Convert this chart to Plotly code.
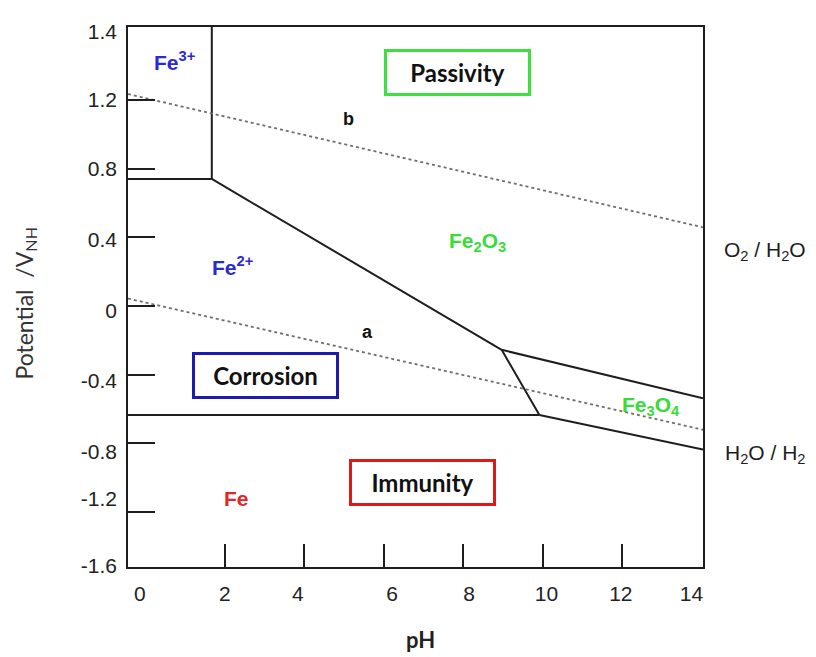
import plotly.graph_objects as go

# Axis range (pH, potential in V)
ph_range = [-0.44, 14.04]
e_range = [-1.522, 1.626]

# tick marks and their (slightly offset) labels
ph_marks = [2, 4, 6, 8, 10, 12]
ph_label_pos = [-0.14, 2.0, 3.84, 6.21, 8.15, 10.1, 11.97, 13.75]
ph_labels = ["0", "2", "4", "6", "8", "10", "12", "14"]

e_marks = [1.2, 0.8, 0.4, 0.0, -0.4, -0.8, -1.2]
e_label_pos = [1.597, 1.2, 0.803, 0.388, -0.026, -0.435, -0.849, -1.125, -1.515]
e_labels = ["1.4", "1.2", "0.8", "0.4", "0", "-0.4", "-0.8", "-1.2", "-1.6"]

# phase boundaries
boundaries = {
    "Fe3+/Fe2+": ([-0.44, 1.67], [0.74, 0.74]),
    "Fe3+/Fe2O3": ([1.67, 1.67], [0.74, 1.626]),
    "Fe2+/Fe2O3": ([1.67, 8.97], [0.74, -0.256]),
    "Fe2O3/Fe3O4": ([8.97, 14.04], [-0.256, -0.538]),
    "Fe2+/Fe3O4": ([8.97, 9.92], [-0.256, -0.636]),
    "Fe/Fe2+": ([-0.44, 9.92], [-0.636, -0.636]),
    "Fe/Fe3O4": ([9.92, 14.04], [-0.636, -0.837]),
}

# water stability lines
water_b_ph = [-0.44, 14.04]
water_b_e = [1.235, 0.458]
water_a_ph = [-0.44, 14.04]
water_a_e = [0.043, -0.722]

fig = go.Figure()

for name, (xs, ys) in boundaries.items():
    fig.add_trace(go.Scatter(x=xs, y=ys, mode="lines", name=name,
                             line=dict(color="#1e1e1e", width=2),
                             hoverinfo="skip"))

for xs, ys in [(water_b_ph, water_b_e), (water_a_ph, water_a_e)]:
    fig.add_trace(go.Scatter(x=xs, y=ys, mode="lines", xaxis="x2", yaxis="y2",
                             line=dict(color="#6e6e6e", width=1.8, dash="dot"),
                             hoverinfo="skip"))

species = [
    (0.72, 1.425, "Fe<sup>3+</sup>", "#2a2ad2", 21),
    (2.20, 0.235, "Fe<sup>2+</sup>", "#2a2ad2", 21),
    (8.35, 0.375, "Fe<sub>2</sub>O<sub>3</sub>", "#38dc38", 21),
    (12.72, -0.585, "Fe<sub>3</sub>O<sub>4</sub>", "#38dc38", 21),
    (2.30, -1.12, "Fe", "#e02828", 21),
    (5.12, 1.087, "b", "#111111", 18),
    (5.58, -0.153, "a", "#111111", 18),
]
for x, y, txt, col, size in species:
    fig.add_annotation(x=x, y=y, text=txt, showarrow=False,
                       font=dict(family="Liberation Sans, Arial", size=size,
                                 color=col, weight="bold"))

boxes = [
    (7.87, 1.358, "Passivity", "#3ee03e"),
    (3.03, -0.408, "Corrosion", "#1c1cb0"),
    (6.97, -1.03, "Immunity", "#e01818"),
]
for x, y, txt, col in boxes:
    fig.add_annotation(x=x, y=y, text=txt, showarrow=False,
                       width=141, height=41, borderpad=0,
                       bordercolor=col, borderwidth=3, bgcolor="white",
                       font=dict(family="Lato", size=24, color="#111111",
                                 weight="bold"))

side = [
    (1.108, 0.585, "O<sub>2</sub> / H<sub>2</sub>O"),
    (1.108, 0.210, "H<sub>2</sub>O / H<sub>2</sub>"),
]
for x, y, txt in side:
    fig.add_annotation(x=x, y=y, xref="paper", yref="paper", text=txt,
                       xanchor="center", yanchor="middle", showarrow=False,
                       font=dict(family="Liberation Sans, Arial", size=21,
                                 color="#1e1e1e"))

fig.add_annotation(x=-0.179, y=0.488, xref="paper", yref="paper",
                   text="Potential  /V<sub>NH</sub>", textangle=-90,
                   xanchor="center", yanchor="middle", showarrow=False,
                   font=dict(family="Lato", size=23, color="#333333"))
fig.add_annotation(x=0.508, y=-0.135, xref="paper", yref="paper",
                   text="pH", xanchor="center", yanchor="middle",
                   showarrow=False,
                   font=dict(family="Lato", size=22, color="#222222",
                             weight="bold"))

axis_line = dict(showline=True, linecolor="#1e1e1e", linewidth=2,
                 showgrid=False, zeroline=False, fixedrange=True)
tick_font = dict(family="Liberation Sans, Arial", size=21, color="#222222")

fig.update_layout(
    width=816, height=657,
    margin=dict(l=120, r=121, t=12, b=98),
    paper_bgcolor="white", plot_bgcolor="white",
    showlegend=False,
    xaxis=dict(range=ph_range, tickmode="array", tickvals=ph_marks,
               ticks="inside", ticklen=23, tickwidth=2, tickcolor="#1e1e1e",
               showticklabels=False, mirror=True, **axis_line),
    yaxis=dict(range=e_range, tickmode="array", tickvals=e_marks,
               ticks="inside", ticklen=27, tickwidth=2, tickcolor="#1e1e1e",
               showticklabels=False, mirror=True, **axis_line),
    xaxis2=dict(range=ph_range, overlaying="x", anchor="y2", side="bottom",
                tickmode="array", tickvals=ph_label_pos, ticktext=ph_labels,
                ticks="", ticklabelstandoff=12, tickfont=tick_font,
                showgrid=False, zeroline=False, showline=False,
                fixedrange=True),
    yaxis2=dict(range=e_range, overlaying="y", anchor="x2", side="left",
                tickmode="array", tickvals=e_label_pos, ticktext=e_labels,
                ticks="", ticklabelstandoff=10, tickfont=tick_font,
                showgrid=False, zeroline=False, showline=False,
                fixedrange=True),
)

fig.write_html("out.html")
